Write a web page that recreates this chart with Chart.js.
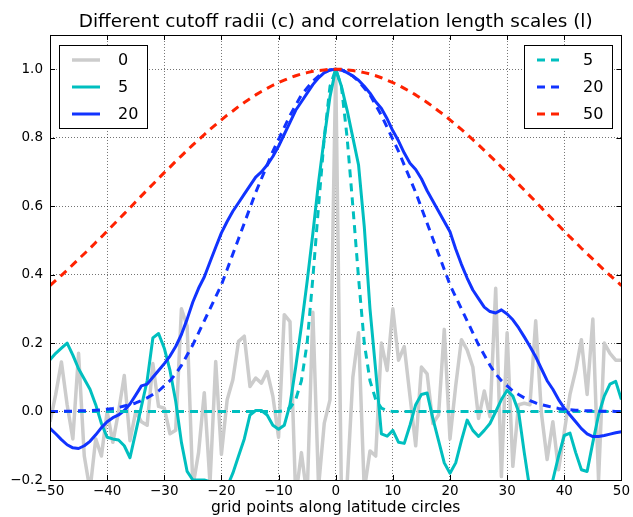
<!DOCTYPE html>
<html>
<head>
<meta charset="utf-8">
<script src="https://cdn.jsdelivr.net/npm/chart.js@4.4.1/dist/chart.umd.min.js"></script>
<style>
  body { margin: 0; background: #fff; }
  canvas { display: block; }
</style>
</head>
<body>
<canvas id="myChart" width="633" height="517"></canvas>
<script>
// grid points along the latitude circle
var xs = [-50,-49,-48,-47,-46,-45,-44,-43,-42,-41,-40,-39,-38,-37,-36,-35,-34,-33,-32,-31,
  -30,-29,-28,-27,-26,-25,-24,-23,-22,-21,-20,-19,-18,-17,-16,-15,-14,-13,-12,-11,
  -10,-9,-8,-7,-6,-5,-4,-3,-2,-1,0,1,2,3,4,5,6,7,8,9,
  10,11,12,13,14,15,16,17,18,19,20,21,22,23,24,25,26,27,28,29,
  30,31,32,33,34,35,36,37,38,39,40,41,42,43,44,45,46,47,48,49,50];

// cutoff radius c = 0 (grey)
var c0 = [-0.03,0.05,0.145,0.02,-0.08,0.17,-0.13,-0.23,-0.08,-0.13,
  0.0,-0.09,0.0,0.105,-0.085,0.0,-0.03,-0.04,0.14,0.015,
  0.01,-0.065,-0.055,0.3,0.25,-0.22,-0.12,0.055,-0.21,0.146,
  -0.125,0.034,0.093,0.205,0.22,0.073,0.098,0.083,0.117,0.045,
  -0.075,0.283,0.263,-0.25,-0.12,-0.25,0.29,-0.22,-0.034,0.034,
  1.0,
  -0.24,-0.21,0.1,0.23,-0.23,-0.115,-0.13,0.2,0.12,0.3,
  0.15,0.19,0.045,-0.1,0.13,0.11,-0.035,-0.01,0.24,-0.08,
  0.075,0.21,0.18,0.13,-0.02,0.06,-0.015,0.36,-0.19,0.23,
  -0.16,0.02,0.024,0.02,0.265,-0.005,-0.14,-0.03,-0.17,-0.06,
  0.05,0.12,0.21,0.05,0.27,-0.2,0.2,0.17,0.15,0.15];

// cutoff radius c = 5 (cyan)
var c5 = [0.151,0.17,0.185,0.2,0.165,0.125,0.095,0.065,0.02,-0.035,
  -0.075,-0.08,-0.083,-0.1,-0.135,-0.06,0.015,0.09,0.215,0.228,
  0.185,0.12,0.03,-0.09,-0.175,-0.2,-0.2,-0.2,-0.205,-0.24,
  -0.26,-0.22,-0.18,-0.13,-0.08,-0.01,0.003,0.003,-0.01,-0.04,
  -0.052,-0.04,0.02,0.13,0.25,0.38,0.52,0.67,0.8,0.92,
  1.0,
  0.95,0.88,0.8,0.72,0.54,0.3,0.12,-0.065,-0.072,-0.055,
  -0.09,-0.093,-0.04,0.02,0.05,0.054,-0.02,-0.085,-0.15,-0.18,
  -0.15,-0.085,-0.025,-0.055,-0.073,-0.055,-0.035,0.0,0.035,0.062,
  0.045,0.0,-0.12,-0.23,-0.29,-0.3,-0.27,-0.2,-0.13,-0.07,
  -0.063,-0.12,-0.17,-0.175,-0.09,-0.01,0.045,0.08,0.088,0.035];

// cutoff radius c = 20 (blue)
var c20 = [-0.049,-0.065,-0.082,-0.097,-0.106,-0.108,-0.1,-0.087,-0.068,-0.047,
  -0.03,-0.018,-0.01,0.003,0.022,0.048,0.075,0.08,0.1,0.12,
  0.14,0.162,0.19,0.225,0.27,0.32,0.36,0.393,0.437,0.48,
  0.522,0.555,0.585,0.61,0.635,0.66,0.685,0.7,0.72,0.745,
  0.775,0.81,0.845,0.88,0.905,0.93,0.955,0.975,0.99,0.998,
  1.0,
  0.998,0.99,0.98,0.968,0.95,0.93,0.905,0.885,0.855,0.82,
  0.79,0.755,0.725,0.707,0.68,0.645,0.615,0.585,0.555,0.525,
  0.475,0.43,0.39,0.355,0.33,0.305,0.292,0.288,0.297,0.285,
  0.268,0.245,0.218,0.19,0.16,0.125,0.09,0.065,0.035,0.01,
  -0.01,-0.03,-0.05,-0.065,-0.073,-0.073,-0.07,-0.066,-0.062,-0.059];

// correlation length scale l = 5 (cyan dashed)
var l5 = [0,0,0,0,0,0,0,0,0,0,
  0,0,0,0,0,0,0,0,0,0,
  0,0,0,0,0,0,0,0,0,0,
  0,0,0,0,0,0,0,0,0,0,
  0,0.003,0.01,0.035,0.09,0.2,0.39,0.6,0.8,0.95,
  1.0,
  0.95,0.8,0.6,0.39,0.2,0.09,0.035,0.01,0.003,0,
  0,0,0,0,0,0,0,0,0,0,
  0,0,0,0,0,0,0,0,0,0,
  0,0,0,0,0,0,0,0,0,0,
  0,0,0,0,0,0,0,0,0,0];

// correlation length scale l = 20 (blue dashed)
var l20 = [0,0,0.001,0.001,0.001,0.002,0.002,0.003,0.004,0.005,
  0.007,0.009,0.012,0.016,0.02,0.025,0.032,0.04,0.05,0.06,
  0.075,0.09,0.11,0.135,0.165,0.195,0.23,0.265,0.3,0.335,
  0.37,0.415,0.46,0.505,0.55,0.595,0.64,0.68,0.72,0.76,
  0.795,0.83,0.865,0.895,0.925,0.945,0.965,0.98,0.99,0.998,
  1.0,
  0.998,0.99,0.98,0.965,0.945,0.925,0.895,0.865,0.83,0.795,
  0.76,0.72,0.68,0.64,0.595,0.55,0.505,0.46,0.415,0.37,
  0.335,0.3,0.265,0.23,0.195,0.165,0.135,0.11,0.09,0.075,
  0.06,0.05,0.04,0.032,0.025,0.02,0.016,0.012,0.009,0.007,
  0.005,0.004,0.003,0.002,0.002,0.001,0.001,0.001,0,0];

// correlation length scale l = 50 (red dashed)
var l50 = [0.368,0.383,0.398,0.413,0.429,0.445,0.461,0.477,0.494,0.51,
  0.527,0.544,0.561,0.578,0.595,0.613,0.63,0.647,0.664,0.681,
  0.698,0.714,0.731,0.747,0.763,0.779,0.794,0.809,0.824,0.838,
  0.852,0.866,0.878,0.891,0.903,0.914,0.925,0.935,0.944,0.953,
  0.961,0.968,0.975,0.981,0.986,0.99,0.994,0.996,0.998,1.0,
  1.0,
  1.0,0.998,0.996,0.994,0.99,0.986,0.981,0.975,0.968,0.961,
  0.953,0.944,0.935,0.925,0.914,0.903,0.891,0.878,0.866,0.852,
  0.838,0.824,0.809,0.794,0.779,0.763,0.747,0.731,0.714,0.698,
  0.681,0.664,0.647,0.63,0.613,0.595,0.578,0.561,0.544,0.527,
  0.51,0.494,0.477,0.461,0.445,0.429,0.413,0.398,0.383,0.368];

var xTicks = [-50,-40,-30,-20,-10,0,10,20,30,40,50];
var yTicks = [-0.2,0.0,0.2,0.4,0.6,0.8,1.0];

var fuente = 'DejaVu Sans';

function serie(vals) {
  return xs.map(function (x, i) { return { x: x, y: vals[i] }; });
}

function conMenos(txt) {
  return String(txt).replace('-', '\u2212');
}

// center the title over the plot area, like matplotlib does
var centrarTitulo = {
  id: 'centrarTitulo',
  afterLayout: function (chart) {
    if (chart.titleBlock) {
      chart.titleBlock.left = chart.chartArea.left;
      chart.titleBlock.right = chart.chartArea.right;
    }
  }
};

// black frame with inward ticks on all four sides
var marco = {
  id: 'marco',
  afterDatasetsDraw: function (chart) {
    var ctx = chart.ctx;
    var a = chart.chartArea;
    var sx = chart.scales.x;
    var sy = chart.scales.y;
    ctx.save();
    ctx.strokeStyle = '#000';
    ctx.lineWidth = 1;
    ctx.beginPath();
    xTicks.forEach(function (v) {
      var px = Math.round(sx.getPixelForValue(v)) + 0.5;
      ctx.moveTo(px, a.top); ctx.lineTo(px, a.top + 5);
      ctx.moveTo(px, a.bottom); ctx.lineTo(px, a.bottom - 5);
    });
    yTicks.forEach(function (v) {
      var py = Math.round(sy.getPixelForValue(v)) + 0.5;
      ctx.moveTo(a.left, py); ctx.lineTo(a.left + 5, py);
      ctx.moveTo(a.right, py); ctx.lineTo(a.right - 5, py);
    });
    ctx.stroke();
    ctx.strokeRect(Math.round(a.left) + 0.5, Math.round(a.top) + 0.5,
      Math.round(a.right - a.left), Math.round(a.bottom - a.top));
    ctx.restore();
  }
};

// two legend boxes: c on the left, l on the right
var leyendas = {
  id: 'leyendas',
  afterDraw: function (chart) {
    var ctx = chart.ctx;
    var a = chart.chartArea;
    ['left', 'right'].forEach(function (lado) {
      var items = chart.data.datasets.filter(function (d) { return d.caja === lado; })
        .sort(function (p, q) { return p.puesto - q.puesto; });
      var w = 88, h = 83;
      var x0 = lado === 'left' ? Math.round(a.left) + 9 : Math.round(a.right) - 9 - w;
      var y0 = Math.round(a.top) + 10;
      ctx.save();
      ctx.fillStyle = '#fff';
      ctx.fillRect(x0, y0, w, h);
      ctx.strokeStyle = '#000';
      ctx.lineWidth = 1;
      ctx.strokeRect(x0 + 0.5, y0 + 0.5, w, h);
      items.forEach(function (d, i) {
        var y = y0 + 15 + i * 27;
        ctx.strokeStyle = d.borderColor;
        ctx.lineWidth = d.borderWidth;
        ctx.setLineDash(d.borderDash || []);
        ctx.beginPath();
        ctx.moveTo(x0 + 13, y);
        ctx.lineTo(x0 + 41, y);
        ctx.stroke();
        ctx.setLineDash([]);
        ctx.fillStyle = '#000';
        ctx.font = '16px "' + fuente + '"';
        ctx.textAlign = 'left';
        ctx.textBaseline = 'middle';
        ctx.fillText(d.label, x0 + 59, y + 1);
      });
      ctx.restore();
    });
  }
};

var guion = [8, 6];

var ctx = document.getElementById('myChart').getContext('2d');
var myChart = new Chart(ctx, {
  type: 'line',
  data: {
    datasets: [
      { label: '50', data: serie(l50), borderColor: '#ff2200', borderWidth: 3, borderDash: guion, caja: 'right', puesto: 2 },
      { label: '20', data: serie(l20), borderColor: '#1133ff', borderWidth: 3, borderDash: guion, caja: 'right', puesto: 1 },
      { label: '5', data: serie(l5), borderColor: '#00bfbf', borderWidth: 3, borderDash: guion, caja: 'right', puesto: 0 },
      { label: '20', data: serie(c20), borderColor: '#1133ff', borderWidth: 3, caja: 'left', puesto: 2 },
      { label: '5', data: serie(c5), borderColor: '#00bfbf', borderWidth: 3, caja: 'left', puesto: 1 },
      { label: '0', data: serie(c0), borderColor: '#cccccc', borderWidth: 3.5, caja: 'left', puesto: 0 }
    ]
  },
  options: {
    responsive: false,
    animation: false,
    devicePixelRatio: 1,
    clip: 0,
    elements: {
      point: { radius: 0, hoverRadius: 0 },
      line: { tension: 0, borderCapStyle: 'butt', borderJoinStyle: 'round', fill: false }
    },
    layout: { padding: { left: 0, right: 8, top: 0, bottom: 0 } },
    plugins: {
      legend: { display: false },
      tooltip: { enabled: false },
      title: {
        display: true,
        text: 'Different cutoff radii (c) and correlation length scales (l)',
        color: '#000',
        font: { family: fuente, size: 18.4, weight: 'normal' },
        padding: { top: 11, bottom: 1.9 }
      }
    },
    scales: {
      x: {
        type: 'linear',
        min: -50,
        max: 50,
        afterBuildTicks: function (s) { s.ticks = xTicks.map(function (v) { return { value: v }; }); },
        afterFit: function (s) { s.height = 37; },
        ticks: {
          color: '#000',
          font: { family: fuente, size: 13.5 },
          padding: 3,
          maxRotation: 0,
          autoSkip: false,
          callback: function (v) { return conMenos(v); }
        },
        grid: { color: 'rgba(0,0,0,0.55)', lineWidth: 1, drawTicks: false },
        border: { display: false, dash: [1, 2] },
        title: {
          display: true,
          text: 'grid points along latitude circles',
          color: '#000',
          font: { family: fuente, size: 15.5 },
          padding: { top: 0, bottom: 0 }
        }
      },
      y: {
        type: 'linear',
        min: -0.2,
        max: 1.1,
        afterBuildTicks: function (s) { s.ticks = yTicks.map(function (v) { return { value: v }; }); },
        afterFit: function (s) { s.width = 50; },
        ticks: {
          color: '#000',
          font: { family: fuente, size: 13.5 },
          padding: 7,
          autoSkip: false,
          callback: function (v) { return conMenos(v.toFixed(1)); }
        },
        grid: { color: 'rgba(0,0,0,0.55)', lineWidth: 1, drawTicks: false },
        border: { display: false, dash: [1, 2] }
      }
    }
  },
  plugins: [centrarTitulo, marco, leyendas]
});
</script>
</body>
</html>
